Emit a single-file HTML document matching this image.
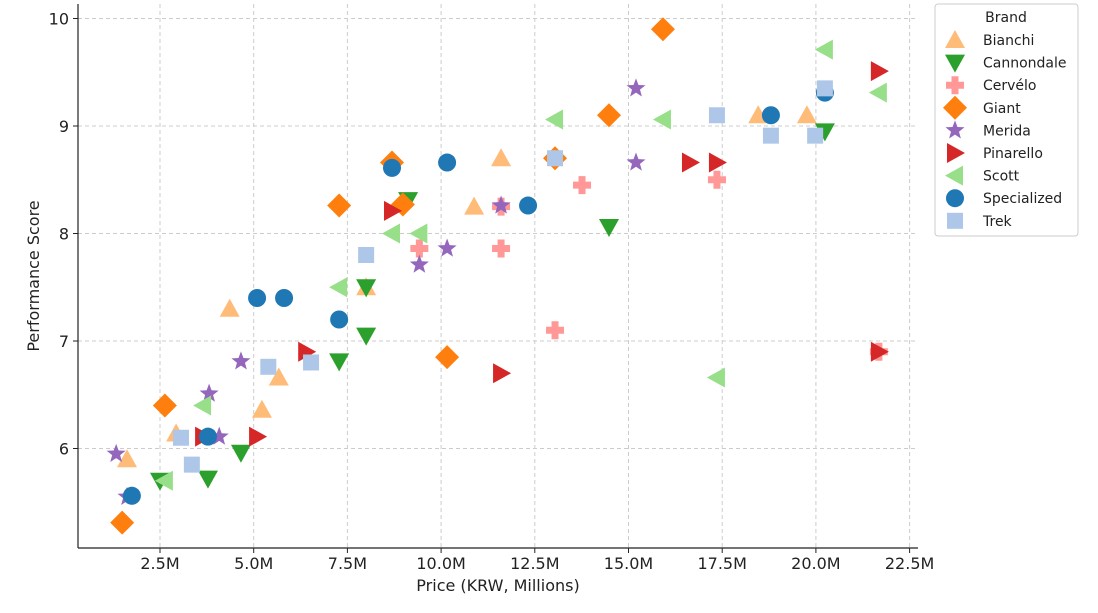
<!DOCTYPE html>
<html><head><meta charset="utf-8"><style>
body{margin:0;background:#fff;font-family:"Liberation Sans",sans-serif}
svg text{font-family:"DejaVu Sans","Liberation Sans",sans-serif;fill:#222}
</style></head><body>
<svg id="chart" width="1098" height="608" xmlns="http://www.w3.org/2000/svg">
<g id="grid"></g>
<g id="marks"></g>
<g id="axes"></g>
<g id="legend"></g>
</svg>
<script>
const brands=["Bianchi","Cannondale","Cervélo","Giant","Merida","Pinarello","Scott","Specialized","Trek"];
const colors=["#ffbb78","#2ca02c","#ff9896","#ff7f0e","#9467bd","#d62728","#98df8a","#1f77b4","#aec7e8"];
const shapes=["up","down","plus","diamond","star","right","left","circle","square"];
const bianchiX=[1.62,2.93,4.36,5.22,5.67,8.0,10.88,11.6,18.46,19.76];
const bianchiY=[5.90,6.14,7.30,6.36,6.66,7.50,8.25,8.70,9.10,9.10];
const cannondaleX=[2.5,3.78,4.66,7.28,8.0,8.0,9.12,14.48,20.24];
const cannondaleY=[5.70,5.72,5.96,6.81,7.05,7.50,8.31,8.06,8.95];
const cerveloX=[9.42,11.6,11.6,13.04,13.76,17.36,21.68];
const cerveloY=[7.86,7.86,8.25,7.10,8.45,8.50,6.90];
const giantX=[1.49,2.63,7.28,8.69,8.98,10.16,13.04,14.48,15.92];
const giantY=[5.31,6.40,8.26,8.66,8.27,6.85,8.70,9.10,9.90];
const meridaX=[1.33,1.62,3.81,4.08,4.66,9.42,10.16,11.6,15.2,15.2];
const meridaY=[5.95,5.55,6.51,6.11,6.81,7.71,7.86,8.26,8.66,9.35];
const pinarelloX=[3.65,5.09,6.4,8.69,11.6,16.64,17.36,21.68,21.68];
const pinarelloY=[6.11,6.11,6.9,8.21,6.70,8.66,8.66,9.51,6.90];
const scottX=[2.63,3.65,7.28,8.69,9.42,13.04,15.92,17.36,20.24,21.68];
const scottY=[5.70,6.40,7.50,8.0,8.0,9.06,9.06,6.66,9.71,9.31];
const specializedX=[1.75,3.78,5.09,5.81,7.28,8.69,10.16,12.32,18.8,20.24];
const specializedY=[5.56,6.11,7.40,7.40,7.20,8.61,8.66,8.26,9.10,9.31];
const trekX=[3.06,3.35,5.39,6.53,8.0,13.04,17.36,18.8,19.98,20.24];
const trekY=[6.10,5.85,6.76,6.80,7.80,8.70,9.10,8.91,8.91,9.35];
const xTicks=[2.5,5,7.5,10,12.5,15,17.5,20,22.5];
const xTickLabels=["2.5M","5.0M","7.5M","10.0M","12.5M","15.0M","17.5M","20.0M","22.5M"];
const yTicks=[6,7,8,9,10];
const yTickLabels=["6","7","8","9","10"];
const seriesX=[bianchiX,cannondaleX,cerveloX,giantX,meridaX,pinarelloX,scottX,specializedX,trekX];
const seriesY=[bianchiY,cannondaleY,cerveloY,giantY,meridaY,pinarelloY,scottY,specializedY,trekY];

const L=78,R=918,T=4,B=548;
const xs=v=>66.3+v*37.48;
const ys=v=>126-(v-9)*107.5;
const NS="http://www.w3.org/2000/svg";
function mk(tag,attrs,parent){const e=document.createElementNS(NS,tag);for(const k in attrs)e.setAttribute(k,attrs[k]);parent.appendChild(e);return e;}
function shape(kind,cx,cy,color,parent){
  let e;const s=9;
  if(kind==="circle")e=mk("circle",{cx,cy,r:s},parent);
  else if(kind==="square")e=mk("rect",{x:cx-8,y:cy-8,width:16,height:16},parent);
  else{
    let pts;
    if(kind==="up")pts=[[0,-10],[10,8],[-10,8]];
    else if(kind==="down")pts=[[0,10],[10,-8],[-10,-8]];
    else if(kind==="right")pts=[[10,0],[-8,-10],[-8,10]];
    else if(kind==="left")pts=[[-10,0],[8,-10],[8,10]];
    else if(kind==="diamond")pts=[[0,-12],[12,0],[0,12],[-12,0]];
    else if(kind==="plus"){const a=3.5,b=9;pts=[[-a,-b],[a,-b],[a,-a],[b,-a],[b,a],[a,a],[a,b],[-a,b],[-a,a],[-b,a],[-b,-a],[-a,-a]];}
    else if(kind==="star"){pts=[];for(let i=0;i<10;i++){const r=i%2?4.2:10,an=-Math.PI/2+i*Math.PI/5;pts.push([r*Math.cos(an),r*Math.sin(an)]);}}
    e=mk("polygon",{points:pts.map(p=>(cx+p[0])+","+(cy+p[1])).join(" ")},parent);
  }
  e.setAttribute("fill",color);
  return e;
}
const grid=document.getElementById("grid"),marks=document.getElementById("marks"),axes=document.getElementById("axes"),legend=document.getElementById("legend");
xTicks.forEach((t,i)=>{
  const x=xs(t);
  const g=mk("line",{x1:x,x2:x,y1:T,y2:B,stroke:"#ccc","stroke-dasharray":"4,3","stroke-width":1},grid);
  
  
  mk("line",{x1:x,x2:x,y1:B,y2:B+5,stroke:"#222"},axes);
  const tx=mk("text",{x:x,y:B+21,"text-anchor":"middle","font-size":16},axes);tx.textContent=xTickLabels[i];
  
  
});
yTicks.forEach((t,i)=>{
  const y=ys(t);
  const g=mk("line",{x1:L,x2:R,y1:y,y2:y,stroke:"#ccc","stroke-dasharray":"4,3","stroke-width":1},grid);
  
  
  mk("line",{x1:L-5,x2:L,y1:y,y2:y,stroke:"#222"},axes);
  const tx=mk("text",{x:L-9,y:y+6,"text-anchor":"end","font-size":16},axes);tx.textContent=yTickLabels[i];
  
  
});
mk("line",{x1:L,x2:L,y1:T,y2:B,stroke:"#222","stroke-width":1.2},axes);
mk("line",{x1:L,x2:R,y1:B,y2:B,stroke:"#222","stroke-width":1.2},axes);
const xt=mk("text",{x:498,y:591,"text-anchor":"middle","font-size":16},axes);xt.textContent="Price (KRW, Millions)";


const yt=mk("text",{x:39,y:276,"text-anchor":"middle","font-size":16,transform:"rotate(-90 39 276)"},axes);yt.textContent="Performance Score";


brands.forEach((b,bi)=>{
  seriesX[bi].forEach((xv,i)=>{
    const e=shape(shapes[bi],xs(xv),ys(seriesY[bi][i]),colors[bi],marks);
    
    
  });
});
const box=mk("rect",{x:935,y:4,width:143,height:232,rx:3,fill:"#fff",stroke:"#ccc"},legend);


const lt=mk("text",{x:1006,y:22,"text-anchor":"middle","font-size":14},legend);lt.textContent="Brand";


brands.forEach((b,i)=>{
  const y=40+i*22.6;
  const g=mk("g",{},legend);
  
  
  shape(shapes[i],955,y,colors[i],g);
  const t=mk("text",{x:983,y:y+5,"font-size":14},g);t.textContent=b;
});
</script>
</body></html>
